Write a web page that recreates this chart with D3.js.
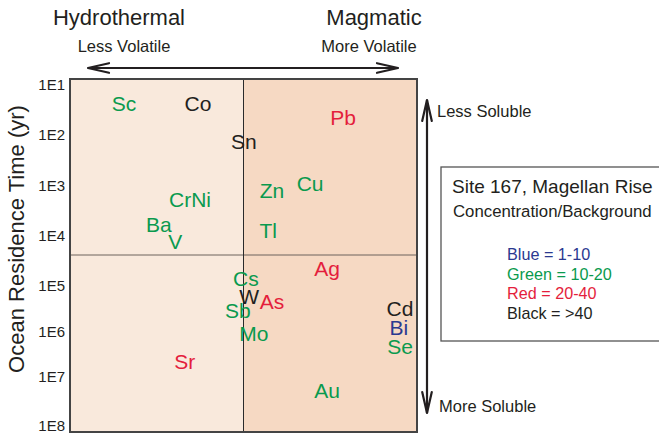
<!DOCTYPE html>
<html>
<head>
<meta charset="utf-8">
<script src="https://cdn.jsdelivr.net/npm/d3@7/dist/d3.min.js"></script>
<style>
  html, body { margin: 0; padding: 0; background: #fff; }
  svg { display: block; font-family: "Liberation Sans", Arial, Helvetica, sans-serif; }
</style>
</head>
<body>
<svg id="chart" width="659" height="435"></svg>
<script>
// Elements plotted by relative volatility (0 = least, 10 = most) and ocean residence time (yr)
const elements  = ["Sc", "Co", "Pb", "Sn", "Zn", "Cu", "CrNi", "Ba", "Tl", "V",
                   "Ag", "Cs", "W", "As", "Sb", "Cd", "Bi", "Mo", "Se", "Sr", "Au"];
const volatility = [1.56, 3.69, 7.87, 5.01, 5.82, 6.92, 3.46, 2.56, 5.71, 3.03,
                    7.41, 5.07, 5.16, 5.82, 4.84, 9.51, 9.48, 5.30, 9.51, 3.31, 7.41];
const residence  = [23, 23, 44, 131, 1200, 910, 1820, 5750, 7590, 12600,
                    43600, 69200, 165000, 212000, 333000, 301000, 778000, 1050000, 2050000, 4410000, 18400000];
// Enrichment class: concentration / background
const enrichment = ["10-20", ">40", "20-40", ">40", "10-20", "10-20", "10-20", "10-20", "10-20", "10-20",
                    "20-40", "10-20", ">40", "20-40", "10-20", ">40", "1-10", "10-20", "10-20", "20-40", "10-20"];

const tickValues = [1e1, 1e2, 1e3, 1e4, 1e5, 1e6, 1e7, 1e8];
const tickLabels = ["1E1", "1E2", "1E3", "1E4", "1E5", "1E6", "1E7", "1E8"];

const legendClasses = ["1-10", "10-20", "20-40", ">40"];
const legendNames   = ["Blue = 1-10", "Green = 10-20", "Red = 20-40", "Black = >40"];
const classColors   = ["#2b3990", "#0a9a4e", "#e41e3c", "#231f20"];

// Field boundaries: hydrothermal/magmatic split and the residence-time split
const volatilitySplit = 5.0;
const residenceSplit = 24000;

const svg = d3.select("#chart");

const plot = { left: 70, right: 417, top: 79, bottom: 432 };

const x = d3.scaleLinear().domain([0, 10]).range([plot.left, plot.right]);
// Log axis with hand-spaced decades
const y = d3.scaleLog()
  .domain(tickValues)
  .range([85, 135, 186, 236, 286, 332, 377, 426]);

const color = d3.scaleOrdinal().domain(legendClasses).range(classColors);

// Background fields
svg.append("rect")
  .attr("x", plot.left).attr("y", plot.top)
  .attr("width", x(volatilitySplit) - plot.left)
  .attr("height", plot.bottom - plot.top)
  .attr("fill", "#f9e9dc");
svg.append("rect")
  .attr("x", x(volatilitySplit)).attr("y", plot.top)
  .attr("width", plot.right - x(volatilitySplit))
  .attr("height", plot.bottom - plot.top)
  .attr("fill", "#f6d9c3");

// Dividers
svg.append("line")
  .attr("x1", plot.left).attr("x2", plot.right)
  .attr("y1", y(residenceSplit)).attr("y2", y(residenceSplit))
  .attr("stroke", "#6d625c").attr("stroke-width", 1);
svg.append("line")
  .attr("x1", x(volatilitySplit)).attr("x2", x(volatilitySplit))
  .attr("y1", plot.top).attr("y2", plot.bottom)
  .attr("stroke", "#2a2a2a").attr("stroke-width", 1);

// Frame
svg.append("rect")
  .attr("x", plot.left).attr("y", plot.top)
  .attr("width", plot.right - plot.left)
  .attr("height", plot.bottom - plot.top)
  .attr("fill", "none").attr("stroke", "#444").attr("stroke-width", 2);

// Y axis labels (no tick marks, no domain line)
const yAxis = d3.axisLeft(y)
  .tickValues(tickValues)
  .tickFormat((d, i) => tickLabels[i])
  .tickSize(0)
  .tickPadding(5);
const gy = svg.append("g")
  .attr("transform", `translate(${plot.left},0)`)
  .call(yAxis);
gy.select(".domain").remove();
gy.selectAll("text")
  .attr("font-size", 15)
  .attr("font-family", "Liberation Sans, Arial, sans-serif")
  .attr("fill", "#231f20");

svg.append("text")
  .attr("transform", "translate(24,239) rotate(-90)")
  .attr("text-anchor", "middle")
  .attr("font-size", 22)
  .attr("fill", "#231f20")
  .text("Ocean Residence Time (yr)");

// Element labels
const rows = elements.map((e, i) => ({
  name: e, v: volatility[i], t: residence[i], c: enrichment[i]
}));
svg.append("g").selectAll("text")
  .data(rows)
  .join("text")
  .attr("x", d => x(d.v))
  .attr("y", d => y(d.t))
  .attr("dy", "0.36em")
  .attr("text-anchor", "middle")
  .attr("font-size", 21)
  .attr("fill", d => color(d.c))
  .text(d => d.name);

// Top headings and volatility arrow
svg.append("text").attr("x", 119).attr("y", 25).attr("text-anchor", "middle")
  .attr("font-size", 22).attr("fill", "#231f20").text("Hydrothermal");
svg.append("text").attr("x", 374).attr("y", 25).attr("text-anchor", "middle")
  .attr("font-size", 22).attr("fill", "#231f20").text("Magmatic");
svg.append("text").attr("x", 124).attr("y", 52).attr("text-anchor", "middle")
  .attr("font-size", 16.5).attr("fill", "#231f20").text("Less Volatile");
svg.append("text").attr("x", 369).attr("y", 52).attr("text-anchor", "middle")
  .attr("font-size", 16.5).attr("fill", "#231f20").text("More Volatile");

function doubleArrow(x1, y1, x2, y2, len, half) {
  const g = svg.append("g").attr("stroke", "#231f20").attr("stroke-width", 2.2)
    .attr("fill", "none").attr("stroke-linecap", "round").attr("stroke-linejoin", "miter");
  g.append("line").attr("x1", x1).attr("y1", y1).attr("x2", x2).attr("y2", y2);
  const ang = Math.atan2(y2 - y1, x2 - x1);
  const head = (px, py, a) => {
    const bx = px - len * Math.cos(a), by = py - len * Math.sin(a);
    const nx = -Math.sin(a) * half, ny = Math.cos(a) * half;
    g.append("path").attr("d", `M${bx + nx},${by + ny}L${px},${py}L${bx - nx},${by - ny}`);
  };
  head(x2, y2, ang);
  head(x1, y1, ang + Math.PI);
}
doubleArrow(88, 68, 398, 68, 21, 4.8);
doubleArrow(427, 100, 427, 413, 21, 4.8);

svg.append("text").attr("x", 437).attr("y", 117)
  .attr("font-size", 16.5).attr("fill", "#231f20").text("Less Soluble");
svg.append("text").attr("x", 439).attr("y", 412)
  .attr("font-size", 16.5).attr("fill", "#231f20").text("More Soluble");

// Legend box
svg.append("rect")
  .attr("x", 441).attr("y", 167).attr("width", 240).attr("height", 174)
  .attr("fill", "#fff").attr("stroke", "#555").attr("stroke-width", 1.3);
svg.append("text").attr("x", 452).attr("y", 193)
  .attr("font-size", 19).attr("fill", "#231f20").text("Site 167, Magellan Rise");
svg.append("text").attr("x", 453).attr("y", 217)
  .attr("font-size", 16.8).attr("fill", "#231f20").text("Concentration/Background");
svg.append("g").selectAll("text")
  .data(legendNames)
  .join("text")
  .attr("x", 507)
  .attr("y", (d, i) => 260 + i * 19.7)
  .attr("font-size", 16.2)
  .attr("fill", (d, i) => color(legendClasses[i]))
  .text(d => d);
</script>
</body>
</html>
